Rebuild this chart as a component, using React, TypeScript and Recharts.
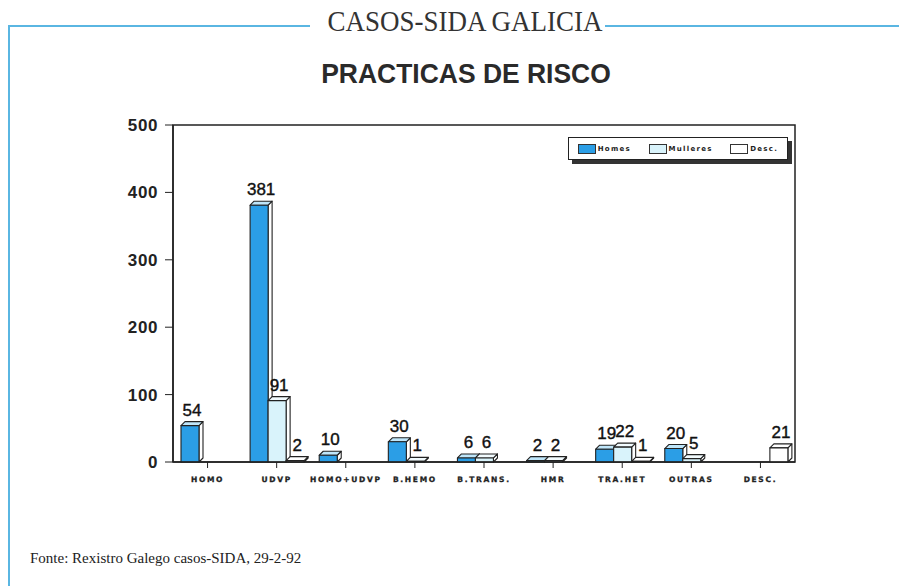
import React from 'react';
import { BarChart, Bar, XAxis, YAxis, LabelList, Legend, ReferenceArea } from 'recharts';

const CATEGORIES = ['HOMO', 'UDVP', 'HOMO+UDVP', 'B.HEMO', 'B.TRANS.', 'HMR', 'TRA.HET', 'OUTRAS', 'DESC.'];
const HOMES = [54, 381, 10, 30, 6, 2, 19, 20, 0];
const MULLERES = [0, 91, 0, 1, 6, 2, 22, 5, 0];
const DESC = [0, 2, 0, 0, 0, 0, 1, 0, 21];
const Y_TICKS = [0, 100, 200, 300, 400, 500];

const SERIES = [
  { key: 'homes', name: 'Homes', color: '#2b9ee6', top: '#bfe6fa' },
  { key: 'mulleres', name: 'Mulleres', color: '#d9f3fb', top: '#f2fbfe' },
  { key: 'desc', name: 'Desc.', color: '#ffffff', top: '#ffffff' },
];

const data = CATEGORIES.map((cat, i) => ({
  cat,
  homes: HOMES[i],
  mulleres: MULLERES[i],
  desc: DESC[i],
}));

const D = 4; // depth of the fake 3D

const Bar3D = (props: any) => {
  const { x, y, width, height, fill, value, topFill } = props;
  if (!value) return null;
  return (
    <g stroke="#222" strokeWidth={1.1} strokeLinejoin="round">
      <polygon
        points={`${x + width},${y} ${x + width + D},${y - D} ${x + width + D},${y + height - D} ${x + width},${y + height}`}
        fill="#fff"
      />
      <polygon points={`${x},${y} ${x + D},${y - D} ${x + width + D},${y - D} ${x + width},${y}`} fill={topFill} />
      <rect x={x} y={y} width={width} height={height} fill={fill} />
    </g>
  );
};

const ValueLabel = (props: any) => {
  const { x, y, width, value } = props;
  if (!value) return null;
  return (
    <text
      x={x + width / 2 + 2}
      y={y - D - 6}
      textAnchor="middle"
      fontFamily="Liberation Sans, Arial, sans-serif"
      fontSize={17}
      stroke="#111"
      strokeWidth={0.4}
      fill="#111"
    >
      {value}
    </text>
  );
};

const XTick = (props: any) => {
  const { x, y, payload } = props;
  return (
    <text
      x={x}
      y={y + 12}
      textAnchor="middle"
      fontFamily="DejaVu Sans, sans-serif"
      fontWeight="bold"
      fontSize={7.5}
      letterSpacing={1.7}
      stroke="#222"
      strokeWidth={0.3}
      fill="#222"
    >
      {payload.value}
    </text>
  );
};

const LegendBox = () => (
  <div
    style={{
      width: 218,
      height: 21,
      border: '1.5px solid #222',
      boxShadow: '4px 4px 0 #333',
      background: '#fff',
      display: 'flex',
      alignItems: 'center',
      justifyContent: 'space-around',
      fontFamily: 'DejaVu Sans, sans-serif',
      fontWeight: 'bold',
      fontSize: 7,
      letterSpacing: 1.3,
      color: '#222',
    }}
  >
    {SERIES.map((s) => (
      <span key={s.key} style={{ display: 'flex', alignItems: 'center' }}>
        <span
          style={{
            display: 'inline-block',
            width: 16,
            height: 8,
            background: s.color,
            border: '1px solid #333',
            marginRight: 2,
          }}
        />
        {s.name}
      </span>
    ))}
  </div>
);

export default function App() {
  return (
    <div style={{ position: 'absolute', left: 0, top: 0, width: 899, height: 586, background: '#fff', overflow: 'hidden' }}>
      {/* marco */}
      <div style={{ position: 'absolute', left: 8, top: 25, width: 302, height: 1.5, background: '#5ab6e2' }} />
      <div style={{ position: 'absolute', left: 605, top: 25, width: 294, height: 1.5, background: '#5ab6e2' }} />
      <div style={{ position: 'absolute', left: 8, top: 25, width: 1.5, height: 561, background: '#5ab6e2' }} />
      <div
        style={{
          position: 'absolute',
          left: 0,
          width: 930,
          top: 5,
          textAlign: 'center',
          fontFamily: 'Liberation Serif, Times New Roman, serif',
          fontSize: 29,
          color: '#333',
          transform: 'scaleX(0.93)',
          transformOrigin: '465px 0',
        }}
      >
        CASOS-SIDA GALICIA
      </div>
      <div
        style={{
          position: 'absolute',
          left: 0,
          width: 932,
          top: 58,
          textAlign: 'center',
          fontFamily: 'Liberation Sans, Arial, sans-serif',
          fontWeight: 'bold',
          fontSize: 28,
          color: '#2a2a2a',
          transform: 'scaleX(0.945)',
          transformOrigin: '466px 0',
        }}
      >
        PRACTICAS DE RISCO
      </div>
      <div
        style={{
          position: 'absolute',
          left: 30,
          top: 550,
          fontFamily: 'Liberation Serif, Times New Roman, serif',
          fontSize: 15,
          color: '#222',
        }}
      >
        Fonte: Rexistro Galego casos-SIDA, 29-2-92
      </div>

      <div style={{ position: 'absolute', left: 0, top: 0 }}>
        <BarChart
          width={899}
          height={586}
          data={data}
          margin={{ top: 125, right: 104, bottom: 94, left: 113 }}
          barGap={0}
          barSize={18}
        >
          <ReferenceArea
            x1="HOMO"
            x2="DESC."
            y1={0}
            y2={500}
            fill="none"
            stroke="#222"
            strokeWidth={1.5}
            ifOverflow="extendDomain"
          />
          <XAxis
            dataKey="cat"
            tick={<XTick />}
            tickSize={6}
            tickLine={{ stroke: '#222' }}
            axisLine={{ stroke: '#222', strokeWidth: 1.5 }}
            height={30}
            interval={0}
          />
          <YAxis
            domain={[0, 500]}
            ticks={Y_TICKS}
            width={60}
            tickSize={8}
            tickMargin={7}
            tickLine={{ stroke: '#222' }}
            axisLine={{ stroke: '#222', strokeWidth: 1.5 }}
            tick={{ fontFamily: 'Liberation Sans, Arial, sans-serif', fontWeight: 'bold', fontSize: 17, fill: '#222', letterSpacing: 0.6 }}
          />
          <Legend
            layout="horizontal"
            verticalAlign="middle"
            align="center"
            content={<LegendBox />}
            wrapperStyle={{ position: 'absolute', left: 568, top: 137, width: 222 }}
          />
          {SERIES.map((s) => (
            <Bar
              key={s.key}
              dataKey={s.key}
              name={s.name}
              fill={s.color}
              isAnimationActive={false}
              shape={(p: any) => <Bar3D {...p} topFill={s.top} />}
            >
              <LabelList dataKey={s.key} content={<ValueLabel />} />
            </Bar>
          ))}
        </BarChart>
      </div>
    </div>
  );
}
